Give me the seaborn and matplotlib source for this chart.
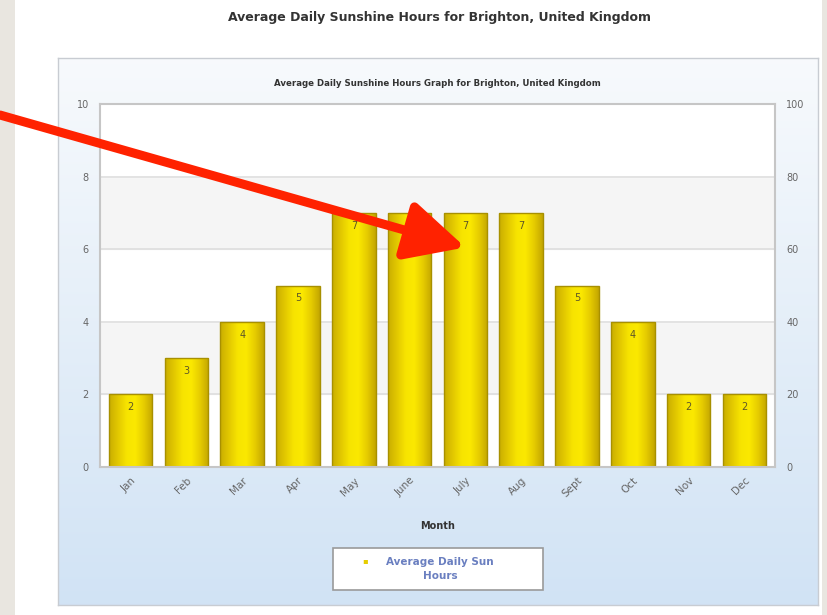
import numpy as np
import matplotlib
matplotlib.use("Agg")
import matplotlib.pyplot as plt
import seaborn as sns
import pandas as pd
from matplotlib.patches import Rectangle, FancyBboxPatch
from matplotlib.colors import LinearSegmentedColormap

# ====== DATA ======
MONTHS = ["Jan", "Feb", "Mar", "Apr", "May", "June", "July", "Aug", "Sept", "Oct", "Nov", "Dec"]
SUN_HOURS = [2, 3, 4, 5, 7, 7, 7, 7, 5, 4, 2, 2]
LEFT_TICKS = [0, 2, 4, 6, 8, 10]
RIGHT_TICKS = [0, 20, 40, 60, 80, 100]
TITLE = "Average Daily Sunshine Hours for Brighton, United Kingdom"
SUBTITLE = "Average Daily Sunshine Hours Graph for Brighton, United Kingdom"
SERIES = "Average Daily Sun\nHours"
# ==================

df = pd.DataFrame({"Month": MONTHS, "Hours": SUN_HOURS})

sns.set_theme(style="white")
plt.rcParams["font.family"] = ["DejaVu Sans"]

W, H = 827, 615
fig = plt.figure(figsize=(W / 100, H / 100), dpi=100)
fig.patch.set_facecolor("#e9e6e0")

# page background (white sheet)
fig.patches.append(Rectangle((15 / W, 0), 807 / W, 1, transform=fig.transFigure,
                             facecolor="white", edgecolor="none", zorder=-10))

# blue gradient chart panel
pan = fig.add_axes([58 / W, 10 / H, 760 / W, 547 / H], zorder=-5)
grad = np.linspace(0, 1, 256).reshape(-1, 1)
top = np.array([0.97, 0.98, 0.99])
bot = np.array([0.82, 0.89, 0.96])
img = top + (bot - top) * grad[..., None]
pan.imshow(img, aspect="auto", extent=[0, 1, 0, 1])
pan.set_xticks([])
pan.set_yticks([])
for s in pan.spines.values():
    s.set_color("#c8ccd2")
    s.set_linewidth(1.0)

# main plot area
ax = fig.add_axes([100 / W, 148 / H, 675 / W, 363 / H])
ax.set_ylim(0, 10)
# alternating bands
for lo in LEFT_TICKS[:-1]:
    band = "#f5f5f5" if lo in (2, 6) else "white"
    ax.axhspan(lo, lo + 2, color=band, zorder=0)
for t in LEFT_TICKS[1:-1]:
    ax.axhline(t, color="#dedede", lw=1.2, zorder=0.5)

sns.barplot(data=df, x="Month", y="Hours", ax=ax, color="#e6cd00",
            width=0.78, edgecolor="#a89000", linewidth=1.0, saturation=1, zorder=2)

# horizontal shading on the bars
shade = LinearSegmentedColormap.from_list(
    "bar", ["#c9ad00", "#e2c800", "#f7e400", "#fbe900", "#e6cc00", "#c3a600"])
gx = np.linspace(0, 1, 128).reshape(1, -1)
for p in ax.containers[0]:
    x0, y0 = p.get_x(), p.get_y()
    w, h = p.get_width(), p.get_height()
    im = ax.imshow(gx, cmap=shade, aspect="auto", extent=[x0, x0 + w, y0, y0 + h],
                   zorder=2.1, interpolation="bicubic")
    im.set_clip_path(p)
    p.set_facecolor("none")
    p.set_zorder(2.2)
ax.set_aspect("auto")

for i, v in enumerate(SUN_HOURS):
    ax.text(i, v - 0.35, str(v), ha="center", va="center", fontsize=7,
            color="#5e5628", zorder=3)

ax.set_xlim(-0.55, len(MONTHS) - 0.45)
ax.set_ylim(0, 10)
ax.set_yticks(LEFT_TICKS)
ax.set_yticklabels([str(t) for t in LEFT_TICKS], fontsize=7, color="#666666")
ax.tick_params(axis="y", length=0, pad=8)
ax.set_xticks(range(len(MONTHS)))
ax.set_xticklabels(MONTHS, rotation=45, ha="right", rotation_mode="anchor",
                   fontsize=7.5, color="#666666")
ax.tick_params(axis="x", length=0, pad=6)
ax.set_xlabel("Month", fontsize=7, fontweight="bold", color="#333333", labelpad=16)
ax.set_ylabel("")
for s in ax.spines.values():
    s.set_color("#c6c6c6")
    s.set_linewidth(1.5)

ax2 = ax.twinx()
ax2.set_ylim(0, 100)
ax2.set_yticks(RIGHT_TICKS)
ax2.set_yticklabels([str(t) for t in RIGHT_TICKS], fontsize=7, color="#666666")
ax2.tick_params(axis="y", length=0, pad=8)
for s in ax2.spines.values():
    s.set_visible(False)

# titles
fig.text(440 / W, 1 - 18 / H, TITLE, ha="center", va="center", fontsize=9,
         fontweight="bold", color="#333333")
fig.text(437 / W, 1 - 84 / H, SUBTITLE, ha="center", va="center", fontsize=6.2,
         fontweight="bold", color="#333333")

# legend box
lx, ly, lw, lh = 333 / W, 1 - 590 / H, 210 / W, 42 / H
fig.patches.append(FancyBboxPatch((lx, ly), lw, lh, boxstyle="square,pad=0",
                                  transform=fig.transFigure, facecolor="white",
                                  edgecolor="#9a9a9a", linewidth=1.2, zorder=5))
fig.text(365 / W, 1 - 561 / H, "\u25aa", ha="center", va="center", fontsize=6,
         color="#e6cd00", zorder=6)
fig.text(440 / W, 1 - 569 / H, SERIES, ha="center", va="center", fontsize=7.5,
         fontweight="bold", color="#6a7fc0", linespacing=1.6, zorder=6)

# red arrow pointing to July
ax.annotate("", xy=(6, 6.05), xycoords="data",
            xytext=(0, 1 - 115 / H), textcoords="figure fraction",
            arrowprops=dict(arrowstyle="-|>,head_length=3.0,head_width=1.5",
                            color="#ff2200", lw=6.5, shrinkA=0, shrinkB=0),
            zorder=10, annotation_clip=False)

fig.savefig("out.png", dpi=100)
